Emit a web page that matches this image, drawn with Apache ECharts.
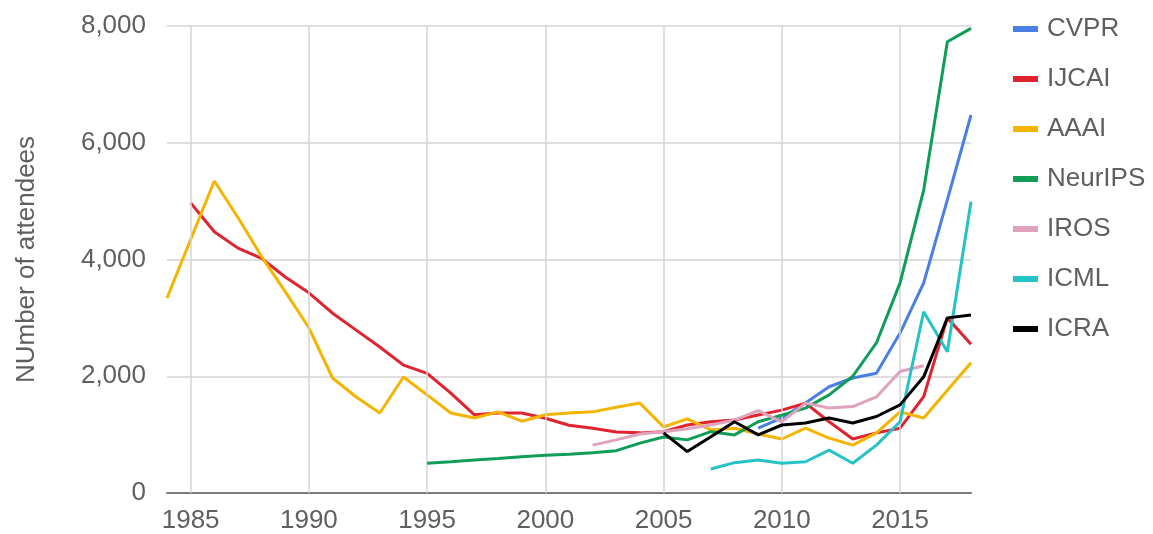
<!DOCTYPE html>
<html>
<head>
<meta charset="utf-8">
<script src="https://cdn.jsdelivr.net/npm/echarts@6/dist/echarts.min.js"></script>
<style>
html,body{margin:0;padding:0;background:#fff;}
#chart{width:1153px;height:534px;}
</style>
</head>
<body>
<div id="chart"></div>
<script>
var years = [1984,1985,1986,1987,1988,1989,1990,1991,1992,1993,1994,1995,1996,1997,1998,1999,2000,2001,2002,2003,2004,2005,2006,2007,2008,2009,2010,2011,2012,2013,2014,2015,2016,2017,2018];
var xTicks = [1985,1990,1995,2000,2005,2010,2015];
var yTicks = [0,2000,4000,6000,8000];
var seriesNames = ['CVPR','IJCAI','AAAI','NeurIPS','IROS','ICML','ICRA'];
var N = null;
var cvpr    = [N,N,N,N,N,N,N,N,N,N,N,N,N,N,N,N,N,N,N,N,N,N,N,N,N,1110,1285,1540,1820,1970,2050,2740,3600,5020,6475];
var ijcai   = [N,4970,4475,4195,4020,3700,3430,3080,2790,2500,2190,2050,1710,1340,1370,1370,1280,1160,1110,1045,1030,1050,1165,1220,1250,1335,1420,1540,1220,925,1030,1110,1650,3000,2550];
var aaai    = [3340,N,5345,4720,4050,3450,2830,1970,1645,1370,1987,1680,1370,1285,1390,1230,1340,1370,1390,1470,1540,1130,1270,1080,1110,1010,925,1110,940,820,1030,1390,1285,1760,2230];
var neurips = [N,N,N,N,N,N,N,N,N,N,N,510,535,565,590,620,645,665,690,725,855,960,910,1050,995,1220,1335,1455,1680,2000,2570,3600,5190,7730,7960];
var iros    = [N,N,N,N,N,N,N,N,N,N,N,N,N,N,N,N,N,N,820,910,1010,1050,1100,1165,1250,1410,1220,1540,1455,1480,1645,2080,2180,N,N];
var icml    = [N,N,N,N,N,N,N,N,N,N,N,N,N,N,N,N,N,N,N,N,N,N,N,410,520,565,510,535,735,510,820,1220,3105,2420,4990];
var icra    = [N,N,N,N,N,N,N,N,N,N,N,N,N,N,N,N,N,N,N,N,N,1030,710,965,1220,995,1165,1200,1285,1200,1310,1510,1990,3000,3050];

var seriesData = [cvpr, ijcai, aaai, neurips, iros, icml, icra];
var colors = ['#4A7FE6','#E0232E','#F4B400','#0F9D58','#DFA3BD','#25C2C6','#000000'];

function pairs(arr){
  var out = [];
  for (var i = 0; i < years.length; i++) {
    out.push([years[i], arr[i]]);
  }
  return out;
}

var series = [{
  name: 'grid',
  type: 'line',
  data: [],
  silent: true,
  z: 1,
  markLine: {
    silent: true,
    symbol: ['none','none'],
    label: {show: false},
    lineStyle: {color: '#d4d4d4', width: 1.5, type: 'solid'},
    emphasis: {disabled: true},
    animation: false,
    data: xTicks.map(function(v){ return {xAxis: v}; })
  }
}];
for (var k = 0; k < seriesNames.length; k++) {
  series.push({
    name: seriesNames[k],
    type: 'line',
    data: pairs(seriesData[k]),
    connectNulls: true,
    showSymbol: false,
    symbol: 'none',
    z: 2 + k,
    lineStyle: {width: 3, color: colors[k]},
    itemStyle: {color: colors[k]}
  });
}

var chart = echarts.init(document.getElementById('chart'), null, {renderer: 'canvas'});
chart.setOption({
  animation: false,
  backgroundColor: '#ffffff',
  textStyle: {fontFamily: 'Liberation Sans, Arial, sans-serif'},
  grid: {left: 167, right: 182, top: 26, bottom: 41, containLabel: false},
  legend: {
    data: seriesNames,
    orient: 'vertical',
    left: 1008,
    top: 11,
    itemWidth: 25,
    itemHeight: 6,
    itemGap: 24,
    icon: 'rect',
    textStyle: {fontSize: 26, color: '#5f5f5f', padding: [0,0,0,4], fontFamily: 'Liberation Sans, Arial, sans-serif'}
  },
  xAxis: {
    type: 'value',
    min: 1984,
    max: 2018,
    interval: 1,
    axisLine: {show: true, lineStyle: {color: '#7a7a7a', width: 2}},
    axisTick: {show: false},
    splitLine: {show: false},
    axisLabel: {
      fontSize: 26,
      color: '#5f5f5f',
      margin: 15,
      formatter: function(v){ return xTicks.indexOf(v) >= 0 ? String(v) : ''; }
    }
  },
  yAxis: {
    type: 'value',
    min: 0,
    max: 8000,
    interval: 2000,
    name: 'NUmber of attendees',
    nameLocation: 'middle',
    nameRotate: 90,
    nameGap: 127,
    nameTextStyle: {fontSize: 26, color: '#5f5f5f'},
    axisLine: {show: false},
    axisTick: {show: false},
    splitLine: {show: true, lineStyle: {color: '#d4d4d4', width: 1.5}},
    axisLabel: {
      fontSize: 26,
      color: '#5f5f5f',
      margin: 21,
      formatter: function(v){ return yTicks.indexOf(v) >= 0 ? v.toLocaleString('en-US') : ''; }
    }
  },
  series: series
});
</script>
</body>
</html>
